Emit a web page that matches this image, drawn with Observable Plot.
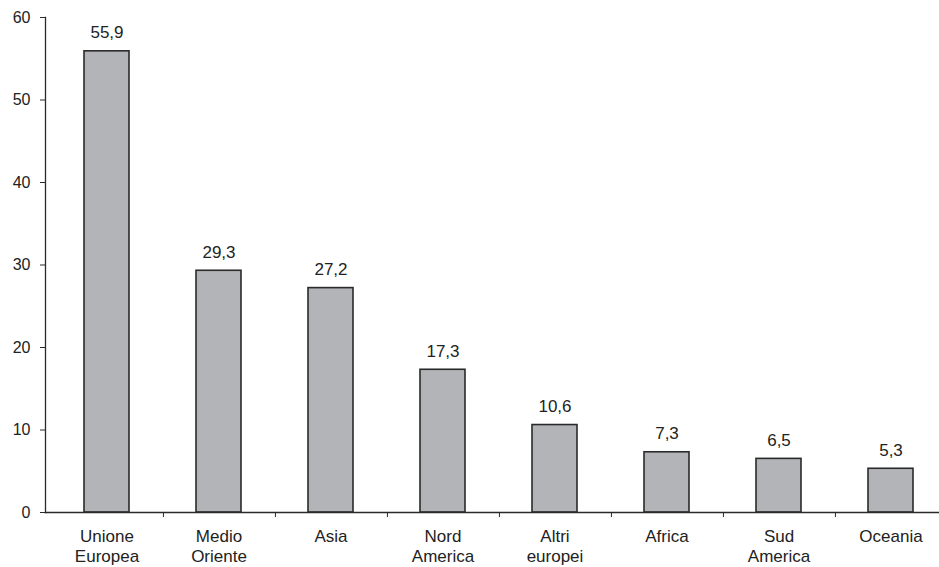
<!DOCTYPE html>
<html>
<head>
<meta charset="utf-8">
<script src="https://cdn.jsdelivr.net/npm/d3@7"></script>
<script src="https://cdn.jsdelivr.net/npm/@observablehq/plot@0.6"></script>
<style>
  html, body { margin: 0; padding: 0; background: #fff; }
  #chart svg { display: block; overflow: visible; }
</style>
</head>
<body>
<div id="chart"></div>
<script>
const categories = ["Unione Europea", "Medio Oriente", "Asia", "Nord America", "Altri europei", "Africa", "Sud America", "Oceania"];
const tickLabels = ["Unione\nEuropea", "Medio\nOriente", "Asia", "Nord\nAmerica", "Altri\neuropei", "Africa", "Sud\nAmerica", "Oceania"];
const values = [55.9, 29.3, 27.2, 17.3, 10.6, 7.3, 6.5, 5.3];
const yTicks = [0, 10, 20, 30, 40, 50, 60];

const data = categories.map((c, i) => ({cat: c, value: values[i]}));
const labelOf = new Map(categories.map((c, i) => [c, tickLabels[i]]));
const fmt = v => v.toFixed(1).replace(".", ",");

const font = "Liberation Sans, Arial, Helvetica, sans-serif";
const ink = "#222";

const chart = Plot.plot({
  width: 939,
  height: 567,
  marginTop: 17,
  marginBottom: 55,
  marginLeft: 45,
  marginRight: 0,
  style: {fontFamily: font, fontSize: "16px", color: ink, background: "#fff"},
  x: {type: "band", domain: categories, range: [46.6, 949.6], paddingInner: 0.6, paddingOuter: 0.3},
  y: {domain: [0, 60]},
  marks: [
    Plot.barY(data, {x: "cat", y: "value", fill: "#b3b4b8", stroke: "#2a2a2a", strokeWidth: 1.6}),
    Plot.text(data, {x: "cat", y: "value", text: d => fmt(d.value), dy: -13, lineAnchor: "bottom", fontSize: 17, fill: ink}),
    Plot.frame({anchor: "left", stroke: "#2a2a2a", strokeWidth: 1.3}),
    Plot.ruleY([0], {stroke: "#2a2a2a", strokeWidth: 1.3}),
    Plot.axisY({ticks: yTicks, tickSize: 5, tickPadding: 10, label: null, fontSize: 16, stroke: "#2a2a2a", fill: ink}),
    Plot.axisX({tickSize: 0, tickPadding: 15, label: null, tickFormat: d => labelOf.get(d), fontSize: 17, lineHeight: 1.18, fill: ink}),
    Plot.axisX({tickSize: 5, text: null, label: null, dx: 56.44, stroke: "#2a2a2a"})
  ]
});
document.getElementById("chart").appendChild(chart);
</script>
</body>
</html>
